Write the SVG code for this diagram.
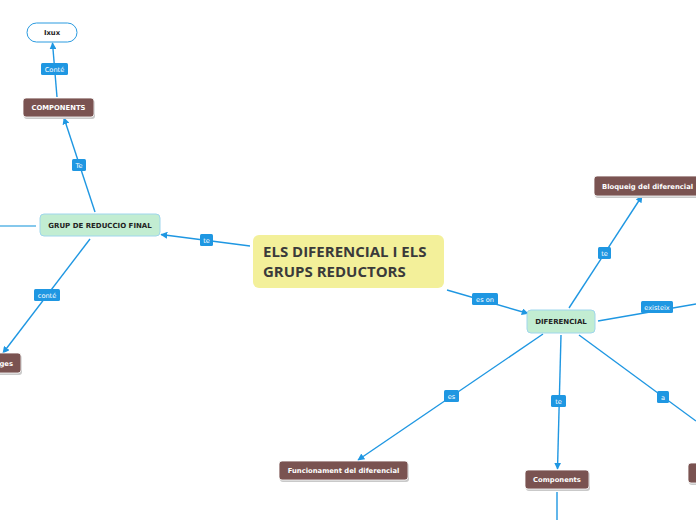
<svg xmlns="http://www.w3.org/2000/svg" width="696" height="520" viewBox="0 0 696 520">
<defs>
<marker id="arr" viewBox="0 0 10 10" refX="9" refY="5" markerWidth="7" markerHeight="7" markerUnits="userSpaceOnUse" orient="auto">
<path d="M0,0 L10,5 L0,10 Z" fill="#1f97e2"/>
</marker>
<style>
.c{stroke:#1f97e2;stroke-width:1.4;fill:none}
.ca{stroke:#1f97e2;stroke-width:1.4;fill:none;marker-end:url(#arr)}
.lb{fill:#1f97e2;}
.lt{font-family:"DejaVu Sans",Verdana,sans-serif;font-size:6.6px;fill:#ffffff;text-anchor:middle}
.br{fill:#7a5351;stroke:#ffffff;stroke-width:0.8}
.sh{fill:#c9c9c9}
.bt{font-family:"DejaVu Sans",Verdana,sans-serif;font-size:6.8px;font-weight:bold;fill:#ffffff;text-anchor:middle}
.gr{fill:#c2edd2;stroke:#9fd6ec;stroke-width:1}
.gt{font-family:"DejaVu Sans",Verdana,sans-serif;font-size:7px;font-weight:bold;fill:#222222;text-anchor:middle}
.ct{font-family:"Open Sans","DejaVu Sans",sans-serif;font-size:15px;font-weight:bold;fill:#3a3a3a}
</style>
</defs>
<rect width="696" height="520" fill="#ffffff"/>
<g id="connectors">
<line class="ca" x1="57" y1="97" x2="52.5" y2="43"/>
<line class="ca" x1="95" y1="212" x2="64" y2="118"/>
<line x1="0" y1="226" x2="36" y2="226" style="stroke:#5cb6e6;stroke-width:1.6"/>
<line class="ca" x1="250" y1="246" x2="161" y2="234.5"/>
<line class="ca" x1="90" y1="239" x2="3" y2="353"/>
<line class="ca" x1="447" y1="290" x2="528" y2="313.5"/>
<line class="ca" x1="569" y1="308" x2="642" y2="196"/>
<line class="c" x1="598" y1="321" x2="696" y2="304"/>
<line class="ca" x1="543" y1="334" x2="358" y2="460"/>
<line class="ca" x1="561" y1="335" x2="557.5" y2="469"/>
<line class="c" x1="579" y1="335" x2="696" y2="421"/>
<line class="c" x1="557" y1="492" x2="557" y2="520"/>
<rect class="lb" x="41" y="63" width="27" height="12" rx="1.5"/><text class="lt" x="54.5" y="71.5">Conté</text>
<rect class="lb" x="72" y="159" width="14" height="12" rx="1.5"/><text class="lt" x="79" y="167.5">Te</text>
<rect class="lb" x="200" y="234" width="13" height="12" rx="1.5"/><text class="lt" x="206.5" y="242.5">te</text>
<rect class="lb" x="34" y="289" width="26" height="12" rx="1.5"/><text class="lt" x="47" y="297.5">conté</text>
<rect class="lb" x="472" y="293" width="26" height="12" rx="1.5"/><text class="lt" x="485" y="301.5">es on</text>
<rect class="lb" x="598" y="247" width="13" height="12" rx="1.5"/><text class="lt" x="604.5" y="255.5">te</text>
<rect class="lb" x="641" y="301" width="32" height="12" rx="1.5"/><text class="lt" x="657" y="309.5">existeix</text>
<rect class="lb" x="444" y="390" width="15" height="12" rx="1.5"/><text class="lt" x="451.5" y="398.5">es</text>
<rect class="lb" x="551" y="395" width="15" height="12" rx="1.5"/><text class="lt" x="558.5" y="403.5">te</text>
<rect class="lb" x="657" y="391" width="12" height="12" rx="1.5"/><text class="lt" x="663" y="399.5">a</text>
</g>
<g id="n-ixux">
<rect x="27" y="23" width="50" height="19" rx="9.5" fill="#ffffff" stroke="#2b9be0" stroke-width="1"/>
<text x="52" y="35" style="font-family:'DejaVu Sans',Verdana,sans-serif;font-size:6.8px;font-weight:bold;fill:#222;text-anchor:middle">Ixux</text>
</g>
<g id="n-components-top">
<rect class="sh" x="24" y="100" width="71" height="19" rx="3"/>
<rect class="br" x="23" y="98" width="71" height="19" rx="3"/>
<text class="bt" x="58.5" y="110">COMPONENTS</text>
</g>
<g id="n-grup">
<rect class="gr" x="40" y="214" width="120" height="22" rx="4"/>
<text class="gt" x="100" y="227.5">GRUP DE REDUCCIO FINAL</text>
</g>
<g id="n-ges">
<rect class="sh" x="-39" y="355" width="61" height="20" rx="3"/>
<rect class="br" x="-40" y="353" width="61" height="20" rx="3"/>
<text class="bt" x="13" y="365.5" style="text-anchor:end">ges</text>
</g>
<g id="n-central">
<rect x="253" y="235" width="191" height="53" rx="6" fill="#f3f09a"/>
<text class="ct" x="263" y="257">ELS DIFERENCIAL I ELS</text>
<text class="ct" x="263" y="277">GRUPS REDUCTORS</text>
</g>
<g id="n-diferencial">
<rect class="gr" x="527" y="310" width="68" height="23" rx="4"/>
<text class="gt" x="561" y="324">DIFERENCIAL</text>
</g>
<g id="n-bloqueig">
<rect class="sh" x="595" y="178" width="110" height="20" rx="3"/>
<rect class="br" x="594" y="176" width="110" height="20" rx="3"/>
<text class="bt" x="602" y="188.5" style="text-anchor:start">Bloqueig del diferencial</text>
</g>
<g id="n-funcionament">
<rect class="sh" x="280" y="463" width="129" height="19" rx="3"/>
<rect class="br" x="279" y="461" width="129" height="19" rx="3"/>
<text class="bt" x="343.5" y="473">Funcionament del diferencial</text>
</g>
<g id="n-components">
<rect class="sh" x="526" y="472" width="64" height="19" rx="3"/>
<rect class="br" x="525" y="470" width="64" height="19" rx="3"/>
<text class="bt" x="557" y="482">Components</text>
</g>
<g id="n-right">
<rect class="sh" x="689" y="465" width="30" height="20" rx="3"/>
<rect class="br" x="688" y="463" width="30" height="20" rx="3"/>
</g>
</svg>
